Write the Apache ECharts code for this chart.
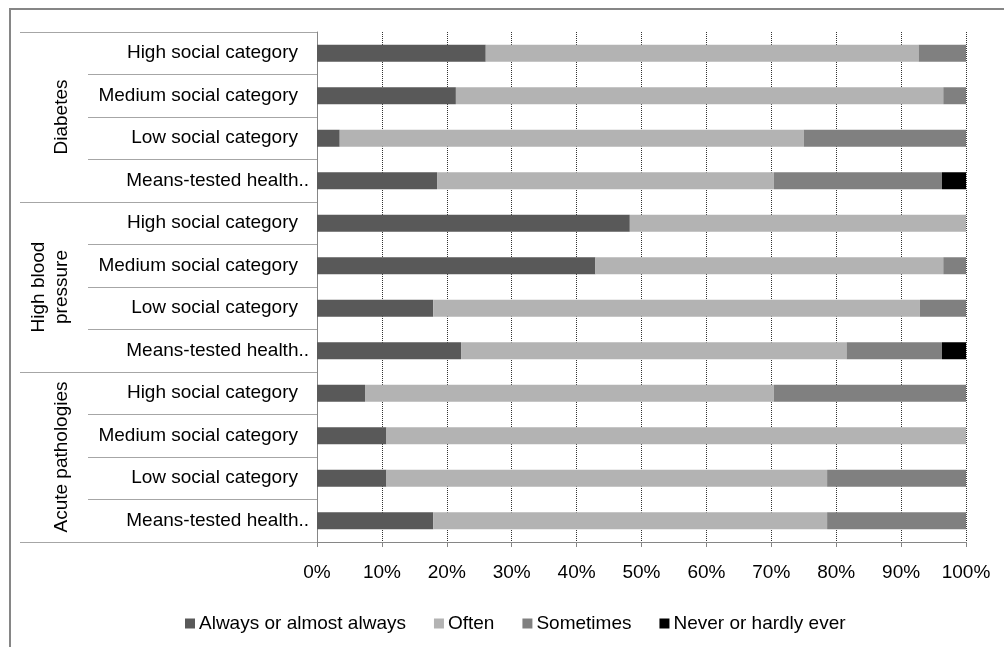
<!DOCTYPE html>
<html>
<head>
<meta charset="utf-8">
<script src="https://cdn.jsdelivr.net/npm/echarts@6/dist/echarts.min.js"></script>
<style>
html,body{margin:0;padding:0;background:#fff;}
#c{width:1004px;height:647px;}
</style>
</head>
<body>
<div id="c"></div>
<script>
const categories = [
  'High social category','Medium social category','Low social category','Means-tested health..',
  'High social category','Medium social category','Low social category','Means-tested health..',
  'High social category','Medium social category','Low social category','Means-tested health..'
];
const groups = ['Diabetes', 'High blood\npressure', 'Acute pathologies'];
const seriesNames = ['Always or almost always', 'Often', 'Sometimes', 'Never or hardly ever'];
const always    = [26.0, 21.4, 3.5, 18.5, 48.2, 42.9, 17.9, 22.2, 7.4, 10.7, 10.7, 17.9];
const often     = [66.7, 75.1, 71.5, 51.9, 51.8, 53.6, 75.0, 59.4, 63.0, 89.3, 67.9, 60.7];
const sometimes = [7.3, 3.5, 25.0, 25.9, 0, 3.5, 7.1, 14.7, 29.6, 0, 21.4, 21.4];
const never     = [0, 0, 0, 3.7, 0, 0, 0, 3.7, 0, 0, 0, 0];
const xTicks = [0, 10, 20, 30, 40, 50, 60, 70, 80, 90, 100];

const colors = ['#595959', '#b3b3b3', '#808080', '#000000'];
const FONT = 'Liberation Sans, Arial, sans-serif';
const values = [always, often, sometimes, never];

const chart = echarts.init(document.getElementById('c'), null, {renderer: 'canvas'});
chart.setOption({
  animation: false,
  backgroundColor: '#fff',
  textStyle: {fontFamily: FONT},
  graphic: [{
    type: 'rect', shape: {x: 10, y: 9, width: 1010, height: 700},
    style: {fill: 'none', stroke: '#868686', lineWidth: 2}, silent: true
  }],
  grid: {left: 317, right: 38, top: 32, bottom: 105, containLabel: false, outerBoundsMode: 'none'},
  legend: {
    data: seriesNames, left: 180, top: 609, icon: 'rect',
    itemWidth: 10, itemHeight: 10, itemGap: 28,
    textStyle: {fontSize: 19, color: '#000', fontFamily: FONT, padding: [0, 0, 0, -1]}
  },
  xAxis: {
    type: 'value', min: xTicks[0], max: xTicks[xTicks.length - 1], interval: 10,
    axisLine: {show: true, lineStyle: {color: '#868686', width: 1}},
    axisTick: {show: true, length: 5, lineStyle: {color: '#868686'}},
    axisLabel: {formatter: '{value}%', fontSize: 19, color: '#000', fontFamily: FONT, margin: 21},
    splitLine: {show: true, lineStyle: {type: 'dotted', color: '#333', width: 1}}
  },
  yAxis: [{
    type: 'category', data: categories, inverse: true, position: 'left',
    axisLine: {show: true, lineStyle: {color: '#868686'}},
    axisTick: {show: true, length: 229, interval: 0, lineStyle: {color: '#a6a6a6'}},
    axisLabel: {
      interval: 0, margin: 8, fontSize: 19, color: '#000', fontFamily: FONT,
      formatter: v => v.indexOf('Means') === 0 ? v : '{n|' + v + '}',
      rich: {n: {fontSize: 19, color: '#000', fontFamily: FONT, padding: [0, 11, 0, 0]}}
    }
  }, {
    type: 'category', data: groups,
    inverse: true, position: 'left', offset: 0,
    axisLine: {show: false},
    axisTick: {show: true, length: 297, interval: 0, lineStyle: {color: '#a6a6a6'}},
    axisLabel: {
      interval: 0, rotate: 90, margin: 255, align: 'center', verticalAlign: 'middle',
      fontSize: 19, color: '#000', fontFamily: FONT, lineHeight: 23,
      formatter: v => v.indexOf('\n') >= 0 ? v + '\n ' : v
    }
  }],
  series: seriesNames.map((name, i) => ({
    name: name, type: 'bar', stack: 'total', yAxisIndex: 0, barWidth: 17,
    itemStyle: {color: colors[i]},
    data: values[i]
  }))
});
</script>
</body>
</html>
